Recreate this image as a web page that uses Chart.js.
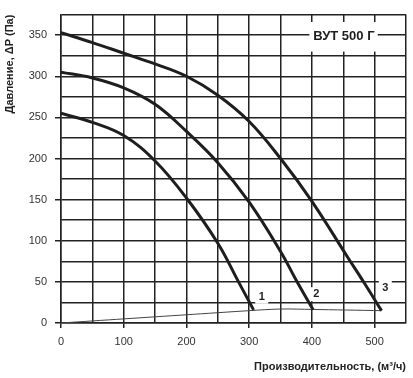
<!DOCTYPE html>
<html>
<head>
<meta charset="utf-8">
<script src="https://cdn.jsdelivr.net/npm/chart.js@4"></script>
<style>
  html, body { margin: 0; padding: 0; background: #fff; }
  #wrap { width: 413px; height: 378px; }
</style>
</head>
<body>
<div id="wrap"><canvas id="fanChart"></canvas></div>
<script>
  // Fan curves for ВУТ 500 Г
  var flow1 = [0, 50, 100, 150, 200, 250, 283, 307];
  var pres1 = [255, 244, 228, 197, 152, 97, 50, 16];

  var flow2 = [0, 50, 100, 150, 200, 250, 300, 350, 375, 402];
  var pres2 = [305, 298, 286, 266, 233, 195, 147, 87, 52, 16];

  var flow3 = [0, 50, 100, 150, 200, 250, 300, 350, 400, 457, 484, 511];
  var pres3 = [353, 341, 328, 315, 300, 277, 245, 200, 148, 80, 48, 15];

  // thin system line along the bottom
  var flowS = [0, 100, 200, 300, 350, 400, 511];
  var presS = [0, 5, 10, 15, 17, 16.5, 15];

  var curveNames = ['1', '2', '3'];
  var modelName = 'ВУТ 500 Г';

  function toPoints(xs, ys) {
    return xs.map(function (x, i) { return { x: x, y: ys[i] }; });
  }

  var ink = '#1e1e1e';
  var gridInk = '#222';

  function curve(xs, ys) {
    return {
      data: toPoints(xs, ys),
      showLine: true,
      borderColor: ink,
      borderWidth: 3,
      pointRadius: 0,
      fill: false,
      tension: 0.4
    };
  }

  var systemLine = {
    data: toPoints(flowS, presS),
    showLine: true,
    borderColor: '#444',
    borderWidth: 1,
    pointRadius: 0,
    fill: false,
    tension: 0.3
  };

  // white boxes with the curve numbers and model name
  var markLabels = {
    id: 'markLabels',
    beforeDatasetsDraw: function (chart) {
      var c = chart.ctx;
      var xs = chart.scales.x;
      var ys = chart.scales.y;
      c.save();

      c.fillStyle = '#fff';
      var bx = xs.getPixelForValue(396), bx2 = xs.getPixelForValue(505);
      var by = ys.getPixelForValue(366), by2 = ys.getPixelForValue(330);
      c.fillRect(bx, by, bx2 - bx, by2 - by);
      c.fillStyle = ink;
      c.font = 'bold 13px "Liberation Sans", Arial, sans-serif';
      c.textAlign = 'center';
      c.textBaseline = 'middle';
      c.fillText(modelName, xs.getPixelForValue(451), ys.getPixelForValue(348));

      var spots = [[320, 32], [407, 35], [517, 43]];
      c.font = 'bold 11px "Liberation Sans", Arial, sans-serif';
      spots.forEach(function (s, i) {
        var px = xs.getPixelForValue(s[0]);
        var py = ys.getPixelForValue(s[1]);
        c.fillStyle = '#fff';
        c.fillRect(px - 6.5, py - 7, 13, 14);
        c.fillStyle = ink;
        c.fillText(curveNames[i], px, py);
      });
      c.restore();
    }
  };

  var tickFont = { family: '"Liberation Sans", Arial, sans-serif', size: 11 };
  var titleFont = { family: '"Liberation Sans", Arial, sans-serif', size: 11, weight: 'bold' };

  new Chart(document.getElementById('fanChart'), {
    type: 'scatter',
    data: {
      datasets: [curve(flow1, pres1), curve(flow2, pres2), curve(flow3, pres3), systemLine]
    },
    plugins: [markLabels],
    options: {
      responsive: true,
      maintainAspectRatio: false,
      animation: false,
      layout: { padding: { top: 7, right: 3, left: 0, bottom: 0 } },
      plugins: {
        legend: { display: false },
        tooltip: { enabled: false }
      },
      scales: {
        x: {
          type: 'linear',
          min: 0,
          max: 550,
          afterFit: function (scale) { scale.height = 55; },
          ticks: {
            stepSize: 50,
            autoSkip: false,
            maxRotation: 0,
            padding: 7,
            color: '#333',
            font: tickFont,
            callback: function (v) { return v % 100 === 0 ? v : ''; }
          },
          grid: {
            color: gridInk,
            lineWidth: 1.5,
            tickLength: 5,
            tickColor: function (ctx) {
              return ctx.tick && ctx.tick.value % 100 === 0 ? gridInk : 'rgba(0,0,0,0)';
            }
          },
          border: { display: true, color: gridInk, width: 1.5 },
          title: {
            display: true,
            text: 'Производительность, (м³/ч)',
            align: 'end',
            color: '#222',
            font: titleFont,
            padding: { top: 0, bottom: 4 }
          }
        },
        y: {
          min: 0,
          max: 375,
          afterFit: function (scale) { scale.width = 61; },
          ticks: {
            stepSize: 25,
            padding: 8,
            color: '#333',
            font: tickFont,
            callback: function (v) { return v % 50 === 0 ? v : ''; }
          },
          grid: {
            color: gridInk,
            lineWidth: 1.5,
            tickLength: 6,
            tickColor: function (ctx) {
              return ctx.tick && ctx.tick.value % 50 === 0 ? gridInk : 'rgba(0,0,0,0)';
            }
          },
          border: { display: true, color: gridInk, width: 1.5 },
          title: {
            display: true,
            text: 'Давление, ΔP (Па)',
            align: 'end',
            color: '#222',
            font: titleFont,
            padding: { top: 3, bottom: 0 }
          }
        }
      }
    }
  });
</script>
</body>
</html>
